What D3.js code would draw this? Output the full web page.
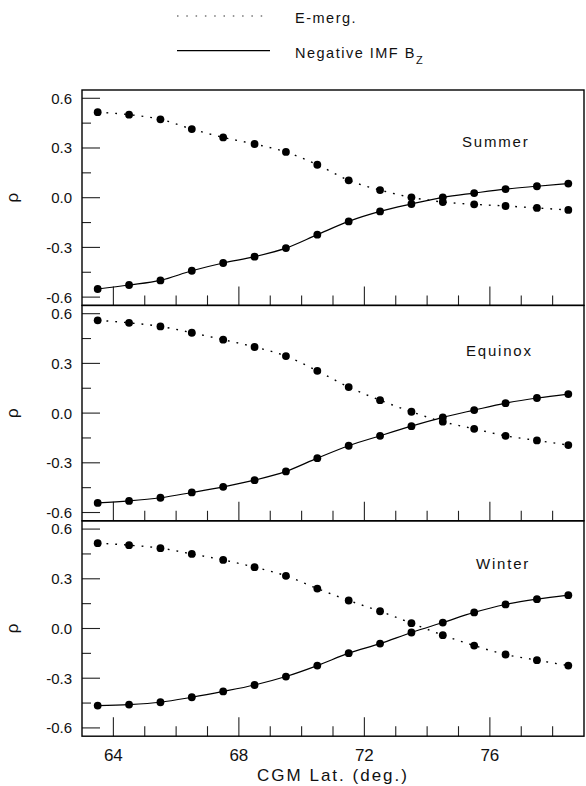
<!DOCTYPE html>
<html>
<head>
<meta charset="utf-8">
<script src="https://cdn.jsdelivr.net/npm/d3@7"></script>
<style>
  html, body { margin: 0; padding: 0; background: #fff; }
  svg { display: block; font-family: "Liberation Sans", Arial, sans-serif; }
</style>
</head>
<body>
<svg id="chart" width="586" height="786"></svg>
<script>
// ---- data ----
const latitudes = [63.5, 64.5, 65.5, 66.5, 67.5, 68.5, 69.5, 70.5, 71.5, 72.5, 73.5, 74.5, 75.5, 76.5, 77.5, 78.5];
const panelNames = ["Summer", "Equinox", "Winter"];
const summerEmerg = [0.516, 0.501, 0.473, 0.414, 0.364, 0.324, 0.276, 0.199, 0.105, 0.046, 0.002, -0.026, -0.040, -0.050, -0.062, -0.074];
const summerBz    = [-0.551, -0.527, -0.499, -0.441, -0.394, -0.356, -0.304, -0.223, -0.143, -0.083, -0.038, 0.002, 0.028, 0.052, 0.069, 0.085];
const equinoxEmerg = [0.560, 0.545, 0.523, 0.485, 0.443, 0.399, 0.344, 0.255, 0.157, 0.078, 0.008, -0.052, -0.095, -0.137, -0.165, -0.193];
const equinoxBz    = [-0.542, -0.530, -0.511, -0.479, -0.445, -0.405, -0.352, -0.272, -0.197, -0.137, -0.079, -0.026, 0.018, 0.060, 0.091, 0.115];
const winterEmerg = [0.515, 0.503, 0.485, 0.450, 0.414, 0.370, 0.318, 0.241, 0.169, 0.104, 0.032, -0.040, -0.103, -0.157, -0.191, -0.224];
const winterBz    = [-0.465, -0.459, -0.445, -0.415, -0.380, -0.341, -0.290, -0.224, -0.149, -0.091, -0.024, 0.036, 0.097, 0.145, 0.177, 0.201];
const yMajorTicks = [-0.6, -0.3, 0.0, 0.3, 0.6];
const yMinorTicks = [-0.45, -0.15, 0.15, 0.45];
const xTicks = [64, 65, 66, 67, 68, 69, 70, 71, 72, 73, 74, 75, 76, 77, 78];
const xMajorTicks = [64, 68, 72, 76];
const legendLabels = ["E-merg.", "Negative IMF B"];
const xTitle = "CGM Lat. (deg.)";
const yTitle = "ρ";

// ---- layout ----
const left = 82, right = 584;
const panelTop0 = 90, panelH = 215.4;
const svg = d3.select("#chart");

const x = d3.scaleLinear().domain([63, 79]).range([left, right]);

const panels = [
  { name: panelNames[0], emerg: summerEmerg, bz: summerBz, labelX: 462 },
  { name: panelNames[1], emerg: equinoxEmerg, bz: equinoxBz, labelX: 466 },
  { name: panelNames[2], emerg: winterEmerg, bz: winterBz, labelX: 476 }
];

const line = y => d3.line()
  .x((d, i) => x(latitudes[i]))
  .y(d => y(d))
  .curve(d3.curveMonotoneX);

panels.forEach((p, k) => {
  const top = panelTop0 + k * panelH;
  const bottom = top + panelH;
  const y = d3.scaleLinear().domain([-0.65, 0.65]).range([bottom, top]);
  const g = svg.append("g");

  // y ticks (inward, left)
  g.selectAll(".ymaj").data(yMajorTicks).join("line")
    .attr("x1", left).attr("x2", left + 18)
    .attr("y1", d => y(d)).attr("y2", d => y(d))
    .attr("stroke", "#222").attr("stroke-width", 1.1);
  g.selectAll(".ymin").data(yMinorTicks).join("line")
    .attr("x1", left).attr("x2", left + 9)
    .attr("y1", d => y(d)).attr("y2", d => y(d))
    .attr("stroke", "#222").attr("stroke-width", 1.1);
  g.selectAll(".ylab").data(yMajorTicks).join("text")
    .attr("x", 72).attr("y", d => y(d)).attr("dy", "0.36em")
    .attr("text-anchor", "end").attr("font-size", 15).attr("fill", "#111")
    .text(d => d3.format(".1f")(d).replace("−", "-"));

  // x ticks (inward from bottom)
  g.selectAll(".xt").data(xTicks).join("line")
    .attr("x1", d => x(d)).attr("x2", d => x(d))
    .attr("y1", bottom).attr("y2", d => bottom - (xMajorTicks.includes(d) ? 19 : 10))
    .attr("stroke", "#222").attr("stroke-width", 1.1);

  // frame
  g.append("rect").attr("x", left).attr("y", top)
    .attr("width", right - left).attr("height", panelH)
    .attr("fill", "none").attr("stroke", "#000").attr("stroke-width", 1.4);

  // y title
  g.append("text")
    .attr("transform", `translate(15,${y(0)}) rotate(-90)`)
    .attr("text-anchor", "middle").attr("dy", "0.2em")
    .attr("font-size", 17).attr("fill", "#111")
    .text(yTitle);

  // lines
  g.append("path").attr("d", line(y)(p.emerg))
    .attr("fill", "none").attr("stroke", "#000").attr("stroke-width", 1.4)
    .attr("stroke-dasharray", "1.8,7");
  g.append("path").attr("d", line(y)(p.bz))
    .attr("fill", "none").attr("stroke", "#000").attr("stroke-width", 1.2);

  // points
  [p.emerg, p.bz].forEach(series => {
    g.selectAll(null).data(series).join("circle")
      .attr("cx", (d, i) => x(latitudes[i])).attr("cy", d => y(d))
      .attr("r", 3.9).attr("fill", "#000");
  });

  // panel label
  g.append("text").attr("x", p.labelX).attr("y", [146.7, 356, 569.3][k])
    .attr("font-size", 15).attr("letter-spacing", 1.8).attr("fill", "#111")
    .text(p.name);
});

// x tick labels
svg.selectAll(".xlab").data(xMajorTicks).join("text")
  .attr("x", d => x(d)).attr("y", 760.5)
  .attr("text-anchor", "middle").attr("font-size", 17).attr("fill", "#111")
  .text(d => d);

// x title
svg.append("text").attr("x", x(71)).attr("y", 781)
  .attr("text-anchor", "middle").attr("font-size", 17).attr("letter-spacing", 2).attr("fill", "#111")
  .text(xTitle);

// legend
svg.append("line").attr("x1", 177).attr("x2", 270).attr("y1", 16).attr("y2", 16)
  .attr("stroke", "#333").attr("stroke-width", 1.1).attr("stroke-dasharray", "1.5,7.8");
svg.append("text").attr("x", 295).attr("y", 23)
  .attr("font-size", 14.5).attr("letter-spacing", 1.5).attr("fill", "#111")
  .text(legendLabels[0]);
svg.append("line").attr("x1", 177).attr("x2", 270).attr("y1", 50.7).attr("y2", 50.7)
  .attr("stroke", "#000").attr("stroke-width", 1.2);
const t2 = svg.append("text").attr("x", 295).attr("y", 58)
  .attr("font-size", 14.5).attr("letter-spacing", 1.5).attr("fill", "#111");
t2.append("tspan").text(legendLabels[1]);
t2.append("tspan").attr("dy", 6).attr("font-size", 11).text("Z");
</script>
</body>
</html>
